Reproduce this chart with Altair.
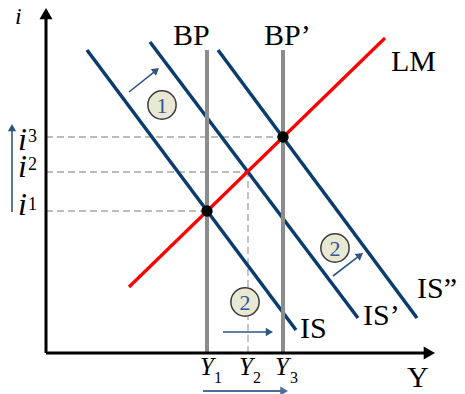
import math
import altair as alt
import pandas as pd

# Units: pixels measured from the axes' origin, y pointing up
X_MIN, X_MAX = -38, 411
Y_MIN, Y_MAX = -41, 345

# Equilibrium incomes and interest rates
Y_vals = [161, 202, 237]          # Y1, Y2, Y3
i_vals = [142, 181, 216]          # i1, i2, i3

# Curves (end points)
curve_names = ["IS", "IS’", "IS”", "LM", "BP", "BP’"]
curve_x1 = [41, 104, 172, 83, 161, 237]
curve_y1 = [303, 311, 303, 66, 303, 303]
curve_x2 = [250, 312, 371, 339, 161, 237]
curve_y2 = [23, 35, 35, 315, 0, 0]

# Arrows (start -> tip)
arrow_names = ["i axis", "Y axis", "i rise", "shift 1", "shift 2a", "shift 2b", "Y rise"]
arrow_x1 = [0, 0, -34, 83, 177, 287, 157]
arrow_y1 = [0, 0, 141, 261, 21, 77, -38]
arrow_x2 = [0, 389, -34, 113, 227, 317, 242]
arrow_y2 = [345, 0, 229, 285, 21, 100, -38]

# Step markers
step_labels = ["1", "2", "2"]
step_x = [116, 199, 289]
step_y = [248, 51, 105]

# Curve labels
curve_label_text = ["BP", "BP’", "LM", "IS", "IS’", "IS”", "Y"]
curve_label_x = [127, 218, 345, 254, 317, 371, 361]
curve_label_y = [308, 308, 282, 15, 28, 55, -34]

# Axis symbols (italic letters) and their indices
sym_text = ["i", "i", "i", "i", "Y", "Y", "Y"]
sym_x = [-31, -28, -28, -28, 154, 193, 229]
sym_y = [329, 203, 176, 138, -22, -22, -22]
idx_text = ["3", "2", "1", "1", "2", "3"]
idx_x = [-18, -18, -18, 168, 207, 244]
idx_y = [211, 183, 143, -30, -30, -30]

# Styles (kept apart from the data)
curve_style = {
    "IS": ("#0B3C6E", 3.5), "IS’": ("#0B3C6E", 3.5), "IS”": ("#0B3C6E", 3.5),
    "LM": ("#FF0000", 3.2), "BP": ("#8C8C8C", 4), "BP’": ("#8C8C8C", 4),
}
arrow_style = {
    "i axis": ("#000000", 3, 170), "Y axis": ("#000000", 3, 170),
    "i rise": ("#2E5580", 1.6, 70), "shift 1": ("#2E5580", 1.6, 70),
    "shift 2a": ("#2E5580", 1.6, 70), "shift 2b": ("#2E5580", 1.6, 70),
    "Y rise": ("#4B6E9A", 2.2, 80),
}
sym_sizes = [24, 32, 32, 32, 25, 25, 25]
idx_sizes = [18, 18, 18, 16, 16, 16]

xs = alt.Scale(domain=[X_MIN, X_MAX], nice=False, zero=False)
ys = alt.Scale(domain=[Y_MIN, Y_MAX], nice=False, zero=False)


def X(f="x"):
    return alt.X(f"{f}:Q", scale=xs, axis=None)


def Yc(f="y"):
    return alt.Y(f"{f}:Q", scale=ys, axis=None)


# dashed guides
guides = pd.DataFrame({
    "x": [0, 0, 0, Y_vals[1]],
    "y": [i_vals[0], i_vals[1], i_vals[2], 0],
    "x2": [Y_vals[0], Y_vals[1], Y_vals[2], Y_vals[1]],
    "y2": [i_vals[0], i_vals[1], i_vals[2], i_vals[1]],
})
guide_layer = alt.Chart(guides).mark_rule(
    color="#A6A6A6", strokeWidth=1.3, strokeDash=[7, 4]
).encode(x=X(), y=Yc(), x2="x2:Q", y2="y2:Q")

curves = pd.DataFrame({"name": curve_names, "x": curve_x1, "y": curve_y1,
                       "x2": curve_x2, "y2": curve_y2})
curves["color"] = curves["name"].map(lambda n: curve_style[n][0])
curves["w"] = curves["name"].map(lambda n: curve_style[n][1])
curve_layer = alt.Chart(curves).mark_rule().encode(
    x=X(), y=Yc(), x2="x2:Q", y2="y2:Q",
    color=alt.Color("color:N", scale=None),
    strokeWidth=alt.StrokeWidth("w:Q", scale=None),
)

arrows = pd.DataFrame({"name": arrow_names, "x": arrow_x1, "y": arrow_y1,
                       "tx": arrow_x2, "ty": arrow_y2})
arrows["color"] = arrows["name"].map(lambda n: arrow_style[n][0])
arrows["w"] = arrows["name"].map(lambda n: arrow_style[n][1])
arrows["hs"] = arrows["name"].map(lambda n: arrow_style[n][2])
dx = arrows["tx"] - arrows["x"]
dy = arrows["ty"] - arrows["y"]
ln = (dx ** 2 + dy ** 2) ** 0.5
hh = 0.433 * arrows["hs"] ** 0.5
arrows["hx"] = arrows["tx"] - dx / ln * hh
arrows["hy"] = arrows["ty"] - dy / ln * hh
arrows["ang"] = [math.degrees(math.atan2(a, b)) % 360 for a, b in zip(dx, dy)]

arrow_lines = alt.Chart(arrows).mark_rule().encode(
    x=X(), y=Yc(), x2="hx:Q", y2="hy:Q",
    color=alt.Color("color:N", scale=None),
    strokeWidth=alt.StrokeWidth("w:Q", scale=None),
)
arrow_heads = alt.Chart(arrows).mark_point(shape="triangle-up", filled=True, opacity=1).encode(
    x=X("hx"), y=Yc("hy"),
    color=alt.Color("color:N", scale=None),
    size=alt.Size("hs:Q", scale=None),
    angle=alt.Angle("ang:Q", scale=None),
)

dots = pd.DataFrame({"x": [Y_vals[0], Y_vals[2]], "y": [i_vals[0], i_vals[2]]})
dot_layer = alt.Chart(dots).mark_point(filled=True, shape="circle", color="black",
                                       size=130, opacity=1).encode(x=X(), y=Yc())

steps = pd.DataFrame({"x": step_x, "y": step_y, "t": step_labels})
step_circles = alt.Chart(steps).mark_point(
    shape="circle", filled=True, fill="#E9E9D3", stroke="#3A3A3A",
    strokeWidth=1.5, size=800, opacity=1
).encode(x=X(), y=Yc())
step_text = alt.Chart(steps).mark_text(
    font="Liberation Serif", fontSize=22, color="#2F5597", align="center", baseline="middle", dy=1
).encode(x=X(), y=Yc(), text="t:N")

labels = pd.DataFrame({"x": curve_label_x, "y": curve_label_y, "t": curve_label_text})
label_layer = alt.Chart(labels).mark_text(
    font="Liberation Serif", fontSize=30, color="black", align="left", baseline="alphabetic"
).encode(x=X(), y=Yc(), text="t:N")

syms = pd.DataFrame({"x": sym_x, "y": sym_y, "t": sym_text, "s": sym_sizes})
sym_layer = alt.Chart(syms).mark_text(
    font="Liberation Serif", fontStyle="italic", color="black", align="left", baseline="alphabetic"
).encode(x=X(), y=Yc(), text="t:N", size=alt.Size("s:Q", scale=None))

idx = pd.DataFrame({"x": idx_x, "y": idx_y, "t": idx_text, "s": idx_sizes})
idx_layer = alt.Chart(idx).mark_text(
    font="Liberation Serif", color="black", align="left", baseline="alphabetic"
).encode(x=X(), y=Yc(), text="t:N", size=alt.Size("s:Q", scale=None))

chart = alt.layer(
    guide_layer, curve_layer, arrow_lines, arrow_heads, dot_layer,
    step_circles, step_text, label_layer, sym_layer, idx_layer
).properties(
    width=449, height=386, padding=0, autosize=alt.AutoSizeParams(type="none"),
    background="white"
).configure_view(stroke=None)

chart.save("out.html", embed_options={"renderer": "svg", "actions": False})
